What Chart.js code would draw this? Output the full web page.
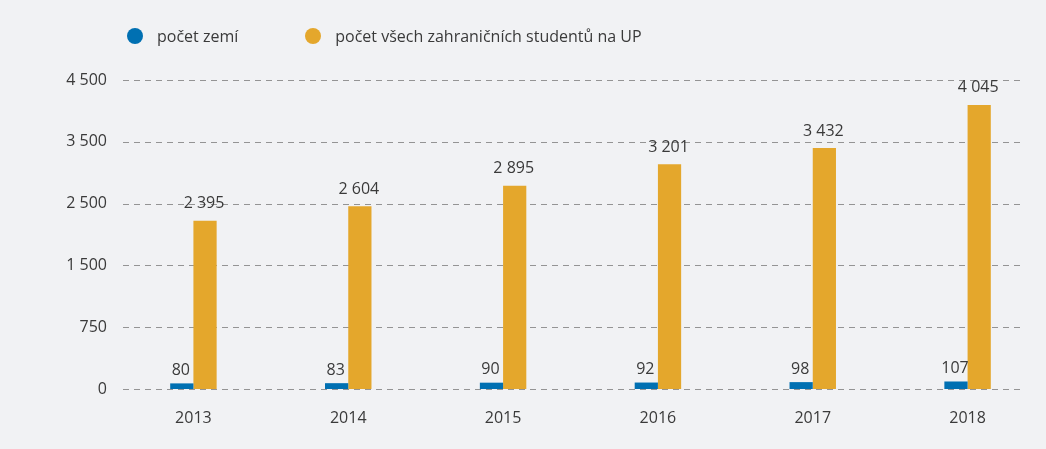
<!DOCTYPE html>
<html lang="cs">
<head>
<meta charset="utf-8">
<script src="https://cdn.jsdelivr.net/npm/chart.js@4"></script>
<style>
  html, body { margin: 0; padding: 0; background: #f1f2f4; }
  #wrap { position: relative; width: 1046px; height: 449px; }
  #legend {
    position: absolute; left: 127px; top: 25px;
    display: flex; gap: 67px;
    font-family: "Open Sans", sans-serif; font-size: 16px; color: #3a3a3a;
  }
  .item { display: flex; align-items: center; }
  .dot { width: 16px; height: 16px; border-radius: 50%; margin-right: 14px; }
</style>
</head>
<body>
<div id="wrap">
  <div id="legend"></div>
  <canvas id="studentsChart" width="1046" height="449"></canvas>
</div>
<script>
const years = ['2013', '2014', '2015', '2016', '2017', '2018'];
const countries = [80, 83, 90, 92, 98, 107];
const students = [2395, 2604, 2895, 3201, 3432, 4045];
const yTickLabels = ['0', '750', '1 500', '2 500', '3 500', '4 500'];

const blue = '#0070b2';
const orange = '#e4a72c';
const textColor = '#3a3a3a';

function fmt(v) {
    return String(v).replace(/\B(?=(\d{3})+(?!\d))/g, ' ');
}

// dashed grid lines, shorter than the chart area
const gridLines = {
    id: 'gridLines',
    beforeDatasetsDraw(chart) {
        const ctx = chart.ctx;
        const y = chart.scales.y;
        ctx.save();
        ctx.strokeStyle = '#949494';
        ctx.lineWidth = 1;
        ctx.setLineDash([6, 5]);
        y.ticks.forEach(t => {
            const py = Math.round(y.getPixelForValue(t.value)) + 0.5;
            ctx.beginPath();
            ctx.moveTo(123, py);
            ctx.lineTo(1025, py);
            ctx.stroke();
        });
        ctx.restore();
    }
};

// value labels above bars
const barLabels = {
    id: 'barLabels',
    afterDatasetsDraw(chart) {
        const ctx = chart.ctx;
        ctx.save();
        ctx.font = '16px "Open Sans"';
        ctx.fillStyle = textColor;
        ctx.textAlign = 'center';
        ctx.textBaseline = 'bottom';
        chart.data.datasets.forEach((ds, i) => {
            const gap = i === 0 ? 5 : 9;
            chart.getDatasetMeta(i).data.forEach((bar, j) => {
                ctx.fillText(fmt(ds.data[j]), bar.x - 1, bar.y - gap);
            });
        });
        ctx.restore();
    }
};

const data = {
    labels: years,
    datasets: [
        { label: 'počet zemí', data: countries, backgroundColor: blue },
        { label: 'počet všech zahraničních studentů na UP', data: students, backgroundColor: orange }
    ]
};

const chart = new Chart(document.getElementById('studentsChart'), {
    type: 'bar',
    data: data,
    options: {
        responsive: false,
        animation: false,
        layout: { padding: { left: 10, right: 1, top: 80, bottom: 10 } },
        datasets: { bar: { categoryPercentage: 0.3, barPercentage: 1 } },
        scales: {
            x: {
                grid: { display: false, drawTicks: false },
                border: { display: false },
                ticks: { color: textColor, font: { family: 'Open Sans', size: 16 }, padding: 20 },
                afterFit: s => { s.height = 50; }
            },
            y: {
                min: 0,
                max: 4400,
                grid: { display: false, drawTicks: false },
                border: { display: false },
                ticks: {
                    stepSize: 880,
                    color: textColor,
                    font: { family: 'Open Sans', size: 16 },
                    padding: 9,
                    callback: (value, index) => yTickLabels[index]
                },
                afterFit: s => { s.width = 106; }
            }
        },
        plugins: {
            legend: { display: false },
            tooltip: { enabled: false }
        }
    },
    plugins: [gridLines, barLabels]
});

// legend as html
const legend = document.getElementById('legend');
data.datasets.forEach(ds => {
    const item = document.createElement('div');
    item.className = 'item';
    item.innerHTML = `<span class="dot" style="background:${ds.backgroundColor}"></span><span>${ds.label}</span>`;
    legend.appendChild(item);
});
</script>
</body>
</html>
